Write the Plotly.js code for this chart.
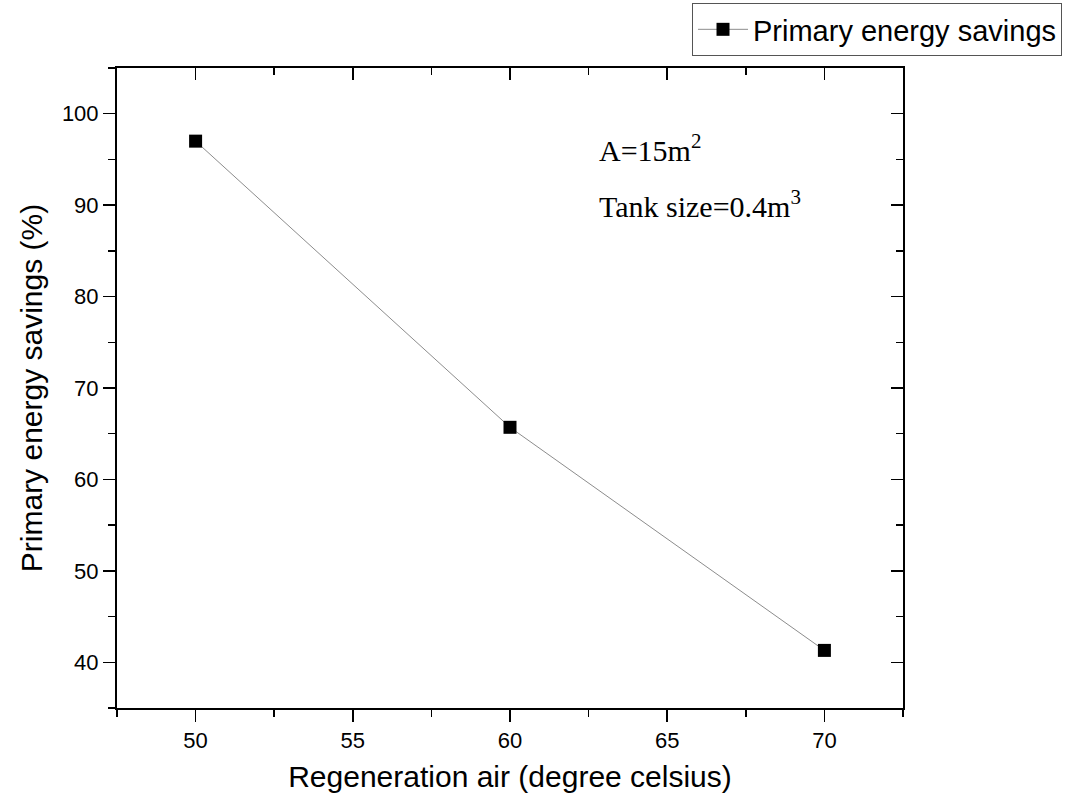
<!DOCTYPE html>
<html><head><meta charset="utf-8">
<script src="https://cdn.plot.ly/plotly-3.0.1.min.js"></script>
<style>html,body{margin:0;padding:0;background:#fff}#chart{width:1068px;height:803px}</style>
</head><body><div id="chart"></div>
<script>
const xTemp = [50, 60, 70];
const pes = [97.0, 65.7, 41.3];
const seriesName = 'Primary energy savings';
const note1 = 'A=15m<sup>2</sup>';
const note2 = 'Tank size=0.4m<sup>3</sup>';

const sans = 'Arial, Liberation Sans, sans-serif';
const serif = 'Liberation Serif, Times New Roman, serif';
const tickFont = {family: sans, size: 22, color: '#000'};
const main = {
  x: xTemp, y: pes, name: seriesName, type: 'scatter', mode: 'lines+markers',
  line: {color: '#8c8c8c', width: 1},
  marker: {symbol: 'square', size: 13, color: '#000'}
};
const ghost = {
  x: xTemp, y: pes, xaxis: 'x2', yaxis: 'y2', type: 'scatter', mode: 'markers',
  marker: {opacity: 0}, showlegend: false, hoverinfo: 'skip'
};
const xr = [47.5, 72.5], yr = [35, 105];
const tk = {ticklen: 12, tickwidth: 1.5, tickcolor: '#000'};
const mn = {ticklen: 7, tickwidth: 1.5, tickcolor: '#000'};
const layout = {
  width: 1068, height: 803,
  margin: {l: 117, r: 165, t: 68, b: 95, autoexpand: false},
  paper_bgcolor: '#fff', plot_bgcolor: '#fff',
  showlegend: true,
  legend: {x: 1.2023, xanchor: 'right', y: 1.1016, yanchor: 'top',
    bordercolor: '#555', borderwidth: 1, bgcolor: '#fff', itemwidth: 50,
    font: {family: sans, size: 29, color: '#000'}},
  xaxis: Object.assign({range: xr, showgrid: false, zeroline: false, showline: true, linewidth: 2, linecolor: '#000', mirror: true,
    ticks: 'outside', dtick: 5, tick0: 50, tickfont: tickFont,
    minor: Object.assign({ticks: 'outside', dtick: 2.5, tick0: 50}, mn),
    title: {text: 'Regeneration air (degree celsius)', font: {family: sans, size: 30, color: '#000'}, standoff: 14}}, tk),
  yaxis: Object.assign({range: yr, showgrid: false, zeroline: false, showline: true, linewidth: 2, linecolor: '#000', mirror: true,
    ticks: 'outside', dtick: 10, tick0: 40, tickfont: tickFont,
    minor: Object.assign({ticks: 'outside', dtick: 5, tick0: 40}, mn),
    title: {text: 'Primary energy savings (%)', font: {family: sans, size: 30, color: '#000'}, standoff: 10}}, tk),
  xaxis2: Object.assign({range: xr, overlaying: 'x', side: 'top', showgrid: false, zeroline: false, showline: false, showticklabels: false,
    ticks: 'inside', dtick: 5, tick0: 50,
    minor: Object.assign({ticks: 'inside', dtick: 2.5, tick0: 50}, mn)}, tk),
  yaxis2: Object.assign({range: yr, overlaying: 'y', side: 'right', showgrid: false, zeroline: false, showline: false, showticklabels: false,
    ticks: 'inside', dtick: 10, tick0: 40,
    minor: Object.assign({ticks: 'inside', dtick: 5, tick0: 40}, mn)}, tk),
  annotations: [
    {x: 62.77, y: 96.2, xref: 'x', yref: 'y', text: note1, showarrow: false, xanchor: 'left', yanchor: 'middle',
      font: {family: serif, size: 30, color: '#000'}},
    {x: 62.77, y: 90.1, xref: 'x', yref: 'y', text: note2, showarrow: false, xanchor: 'left', yanchor: 'middle',
      font: {family: serif, size: 30, color: '#000'}}
  ]
};
Plotly.newPlot('chart', [main, ghost], layout, {displayModeBar: false, staticPlot: true});
</script></body></html>
